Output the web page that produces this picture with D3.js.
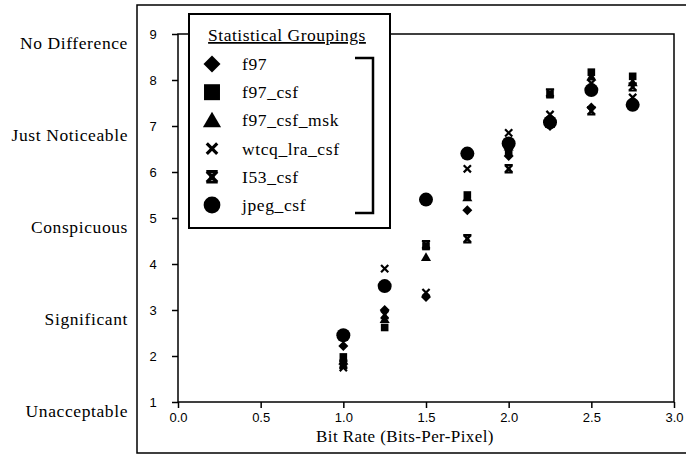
<!DOCTYPE html>
<html>
<head>
<meta charset="utf-8">
<script src="https://cdn.jsdelivr.net/npm/d3@7"></script>
<style>
  body { margin: 0; background: white; }
  svg { display: block; }
  .serif { font-family: "Liberation Serif", "Times New Roman", serif; }
  .sans { font-family: "Liberation Sans", Arial, sans-serif; }
</style>
</head>
<body>
<svg width="686" height="456"></svg>
<script>
// data
var bitRates = [1.0, 1.25, 1.5, 1.75, 2.0, 2.25, 2.5, 2.75];
var f97        = [2.22, 3.0, 3.28, 5.17, 6.35, 7.0, 7.4, 7.5];
var f97Csf     = [1.98, 2.62, 4.38, 5.5, 6.45, 7.68, 8.17, 8.08];
var f97CsfMsk  = [1.9, 2.8, 4.15, 5.45, 6.55, 7.05, 8.07, 7.95];
var wtcqLraCsf = [1.75, 3.9, 3.38, 6.07, 6.85, 7.25, 7.93, 7.62];
var i53Csf     = [1.82, 2.9, 4.42, 4.55, 6.07, 7.72, 7.33, 7.85];
var jpegCsf    = [2.45, 3.52, 5.4, 6.4, 6.62, 7.08, 7.78, 7.46];
var seriesNames = ["f97", "f97_csf", "f97_csf_msk", "wtcq_lra_csf", "I53_csf", "jpeg_csf"];
var seriesValues = [f97, f97Csf, f97CsfMsk, wtcqLraCsf, i53Csf, jpegCsf];
var xTicks = [0, 0.5, 1, 1.5, 2, 2.5, 3];
var yTicks = [1, 2, 3, 4, 5, 6, 7, 8, 9];
var qualityLabels = ["Unacceptable", "Significant", "Conspicuous", "Just Noticeable", "No Difference"];
var qualityLevels = [1, 3, 5, 7, 9];

var svg = d3.select("svg");
var x = d3.scaleLinear().domain([0, 3]).range([178, 674]);
var y = d3.scaleLinear().domain([1, 9]).range([402, 34]);

// outer frame
svg.append("path")
  .attr("d", "M686,5H137V453H686")
  .attr("fill", "none").attr("stroke", "black").attr("stroke-width", 1.5);

// plot frame
svg.append("rect")
  .attr("x", x(0)).attr("y", y(9))
  .attr("width", x(3) - x(0)).attr("height", y(1) - y(9))
  .attr("fill", "none").attr("stroke", "black").attr("stroke-width", 1.5);

// axes
var yAxis = svg.append("g")
  .attr("transform", "translate(" + x(0) + ",0)")
  .call(d3.axisLeft(y).tickValues(yTicks).tickFormat(d3.format("d")).tickSize(6).tickPadding(22));
var xAxis = svg.append("g")
  .attr("transform", "translate(0," + y(1) + ")")
  .call(d3.axisBottom(x).tickValues(xTicks).tickFormat(d3.format(".1f")).tickSize(6).tickPadding(5));
[yAxis, xAxis].forEach(function(a) {
  a.select(".domain").remove();
  a.selectAll("line").attr("stroke", "black").attr("stroke-width", 1.5);
  a.selectAll("text").attr("class", "sans").attr("font-size", 13).attr("fill", "black");
});
yAxis.selectAll("text").attr("text-anchor", "middle").attr("dx", 3);

svg.append("text").attr("class", "serif")
  .attr("x", 405).attr("y", 442)
  .attr("text-anchor", "middle").attr("font-size", 17).attr("letter-spacing", 0.4)
  .text("Bit Rate (Bits-Per-Pixel)");

svg.selectAll(".qlabel")
  .data(qualityLabels)
  .enter().append("text")
  .attr("class", "serif qlabel")
  .attr("x", 128)
  .attr("y", function(d, i) { return y(qualityLevels[i]) + 15; })
  .attr("text-anchor", "end").attr("font-size", 17.5).attr("letter-spacing", 0.6)
  .text(function(d) { return d; });

// marker shapes
function xPath(s) {
  return "M" + (-s) + "," + (-s) + "L" + s + "," + s + "M" + s + "," + (-s) + "L" + (-s) + "," + s;
}
function drawMarker(g, k, scale) {
  var s;
  if (k === 0) {
    s = 5 * scale;
    g.append("path").attr("d", "M0," + (-s) + "L" + s + ",0L0," + s + "L" + (-s) + ",0Z").attr("fill", "black");
  } else if (k === 1) {
    s = 3.8 * scale;
    g.append("rect").attr("x", -s).attr("y", -s).attr("width", 2 * s).attr("height", 2 * s).attr("fill", "black");
  } else if (k === 2) {
    s = 4.8 * scale;
    g.append("path").attr("d", "M0," + (-s) + "L" + (s * 1.05) + "," + (s * 0.8) + "H" + (-s * 1.05) + "Z").attr("fill", "black");
  } else if (k === 5) {
    g.append("circle").attr("r", 7 * scale).attr("fill", "black");
  } else if (k === 3) {
    g.append("path").attr("d", xPath(3.6 * scale))
      .attr("stroke", "black").attr("stroke-width", 2.2 * scale).attr("fill", "none");
  } else {
    s = 3.6 * scale;
    g.append("path").attr("d", xPath(s) + "M" + (-s - 0.5) + "," + (-s) + "H" + (s + 0.5) + "M" + (-s - 0.5) + "," + s + "H" + (s + 0.5))
      .attr("stroke", "black").attr("stroke-width", 2.2 * scale).attr("fill", "none");
    g.append("rect").attr("x", -1.8 * scale).attr("y", -2.2 * scale)
      .attr("width", 3.6 * scale).attr("height", 4.4 * scale).attr("fill", "black");
  }
}

// data points
seriesValues.forEach(function(vals, k) {
  svg.append("g").selectAll("g")
    .data(vals)
    .enter().append("g")
    .attr("transform", function(d, i) { return "translate(" + x(bitRates[i]) + "," + y(d) + ")"; })
    .each(function() { drawMarker(d3.select(this), k, 1); });
});

// legend
var legendScale = [1.7, 2.1, 1.8, 1.45, 1.45, 1.2];
var legend = svg.append("g");
legend.append("rect")
  .attr("x", 189).attr("y", 14).attr("width", 201).attr("height", 214)
  .attr("fill", "white").attr("stroke", "black").attr("stroke-width", 2);
legend.append("text").attr("class", "serif")
  .attr("x", 287).attr("y", 41).attr("text-anchor", "middle")
  .attr("font-size", 17.5).attr("letter-spacing", 0.5).attr("text-decoration", "underline")
  .text("Statistical Groupings");
seriesNames.forEach(function(name, k) {
  var cy = 64 + k * 28.2;
  var g = legend.append("g").attr("transform", "translate(212," + cy + ")");
  drawMarker(g, k, legendScale[k]);
  legend.append("text").attr("class", "serif")
    .attr("x", 242).attr("y", cy + 6).attr("font-size", 17.5).attr("letter-spacing", 0.6)
    .text(name);
});
legend.append("path")
  .attr("d", "M355,58H373V213H355")
  .attr("fill", "none").attr("stroke", "black").attr("stroke-width", 2.5);
</script>
</body>
</html>
